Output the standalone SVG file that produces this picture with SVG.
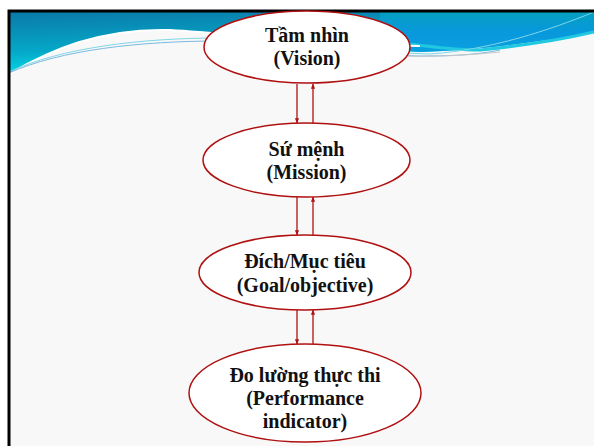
<svg xmlns="http://www.w3.org/2000/svg" width="594" height="446" viewBox="0 0 594 446">
  <defs>
    <linearGradient id="waveLeft" x1="0" y1="0" x2="0.3" y2="1">
      <stop offset="0" stop-color="#0a78a8"/>
      <stop offset="0.6" stop-color="#05a8c8"/>
      <stop offset="1" stop-color="#00e4ee"/>
    </linearGradient>
    <linearGradient id="waveRight" x1="0" y1="0" x2="0" y2="1">
      <stop offset="0" stop-color="#04a0c0"/>
      <stop offset="0.5" stop-color="#0898dc"/>
      <stop offset="1" stop-color="#0aa0e0"/>
    </linearGradient>
    <marker id="arrow" viewBox="0 0 10 10" refX="9" refY="5" markerWidth="4" markerHeight="4" orient="auto">
      <path d="M0,1 L10,5 L0,9 Z" fill="#b01010"/>
    </marker>
    <style>
      .node ellipse { fill: #ffffff; stroke: #b01010; stroke-width: 1.5; }
      .node text { font-family: "Liberation Serif", "Times New Roman", "DejaVu Serif", serif; font-weight: bold; font-size: 20px; fill: #111; text-anchor: middle; }
      .link { stroke: #b01010; stroke-width: 1.3; fill: none; marker-end: url(#arrow); }
    </style>
  </defs>

  <!-- page -->
  <rect x="0" y="0" width="594" height="446" fill="#ffffff"/>
  <rect x="9" y="11" width="590" height="440" fill="#f8f8f8"/>

  <!-- header swoosh -->
  <path d="M9,11 H594 V32 C540,42 480,50 420,52 C300,48 240,34 170,30 C100,28 50,50 9,74 Z" fill="url(#waveLeft)"/>
  <path d="M380,11 H594 V32 C540,42 480,50 420,52 C400,50 390,46 380,44 Z" fill="url(#waveRight)"/>
  <path d="M410,44 C440,48 460,50 480,50 C520,46 560,40 594,32" fill="none" stroke="#20c8e0" stroke-width="3"/>
  <path d="M9,74 C50,50 100,28 170,30 C240,34 300,44 420,46" fill="none" stroke="#ffffff" stroke-width="2"/>
  <path d="M9,72 C60,48 140,38 220,38 C300,40 360,52 430,54 C490,50 550,30 594,12" fill="none" stroke="#7fd6e8" stroke-width="1"/>
  <path d="M9,73 C60,50 140,41 220,41 C300,44 360,55 420,56 C460,56 480,54 500,50" fill="none" stroke="#5aa8d8" stroke-width="0.8"/>
  <path d="M405,56 C440,57 470,55 500,52" fill="none" stroke="#c8c8c8" stroke-width="1"/>

  <!-- frame -->
  <path d="M9,446 V11 H594" fill="none" stroke="#000000" stroke-width="3"/>

  <!-- connectors -->
  <g id="connectors">
    <line class="link" x1="297" y1="84" x2="297" y2="123"/>
    <line class="link" x1="313" y1="123" x2="313" y2="84"/>
    <line class="link" x1="297" y1="197" x2="297" y2="235"/>
    <line class="link" x1="313" y1="235" x2="313" y2="197"/>
    <line class="link" x1="297" y1="310" x2="297" y2="344"/>
    <line class="link" x1="313" y1="344" x2="313" y2="310"/>
  </g>

  <g id="vision" class="node">
    <ellipse cx="307" cy="47" rx="103" ry="36"/>
    <text x="307" y="42" font-family="Liberation Serif, serif">Tầm nhìn</text>
    <text x="307" y="65" font-family="Liberation Serif, serif">(Vision)</text>
  </g>

  <g id="mission" class="node">
    <ellipse cx="306.5" cy="160" rx="103.5" ry="37"/>
    <text x="306.5" y="156" font-family="Liberation Serif, serif">Sứ mệnh</text>
    <text x="306.5" y="179" font-family="Liberation Serif, serif">(Mission)</text>
  </g>

  <g id="goal" class="node">
    <ellipse cx="305" cy="272.5" rx="106" ry="37.5"/>
    <text x="305" y="268" font-family="Liberation Serif, serif">Đích/Mục tiêu</text>
    <text x="305" y="292" font-family="Liberation Serif, serif">(Goal/objective)</text>
  </g>

  <g id="performance" class="node">
    <ellipse cx="305" cy="393" rx="116" ry="49"/>
    <text x="305" y="382" font-family="Liberation Serif, serif">Đo lường thực thi</text>
    <text x="305" y="405" font-family="Liberation Serif, serif">(Performance</text>
    <text x="305" y="428" font-family="Liberation Serif, serif">indicator)</text>
  </g>
</svg>
